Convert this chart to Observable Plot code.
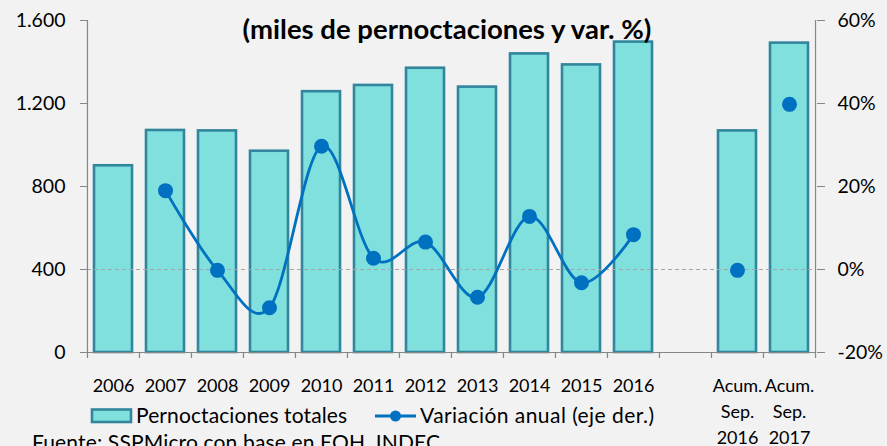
<!DOCTYPE html>
<html>
<head>
<meta charset="utf-8">
<script src="https://cdn.jsdelivr.net/npm/d3@7"></script>
<script src="https://cdn.jsdelivr.net/npm/@observablehq/plot@0.6"></script>
<style>
  html, body { margin: 0; padding: 0; background: #f2f2f2; }
  #chart { width: 887px; height: 446px; overflow: hidden; }
</style>
</head>
<body>
<div id="chart"></div>
<script>
// ---- Data ----
const categories = ["2006","2007","2008","2009","2010","2011","2012","2013","2014","2015","2016"," ","Acum.\nSep.\n2016","Acum.\nSep.\n2017"];
const pernoctaciones = [900, 1070, 1068, 970, 1257, 1287, 1370, 1279, 1439, 1386, 1496, null, 1068, 1491];
const variacion = [null, 19.0, -0.2, -9.2, 29.7, 2.7, 6.6, -6.7, 12.8, -3.2, 8.4, null, -0.2, 39.8];
const leftTicks = [0, 400, 800, 1200, 1600];
const rightTickLabels = ["-20%", "0%", "20%", "40%", "60%"];
const title = "(miles de pernoctaciones y var. %)";
const legendLabels = ["Pernoctaciones totales", "Variación anual (eje der.)"];
const caption = "Fuente: SSPMicro con base en EOH, INDEC";

// ---- Styles ----
const W = 887, H = 446;
const M = {top: 20, right: 71, bottom: 94, left: 87};
const step = (W - M.left - M.right) / categories.length;
const barFill = "#80e0dd", barStroke = "#31859c", lineColor = "#0070c0", axisColor = "#868686";
const font = "Lato, 'Open Sans', sans-serif";

// secondary axis mapping: pct -> primary units (0% at 400, 20% per 400)
const pctToY = p => 400 + p * 20;

const bars = categories.map((c, i) => ({cat: c, value: pernoctaciones[i]})).filter(d => d.value != null);
const pts = categories.map((c, i) => ({cat: c, pct: variacion[i], idx: i})).filter(d => d.pct != null);
const linePts = pts.filter(d => d.idx <= 10);

const fmt = d3.formatLocale({decimal: ",", thousands: ".", grouping: [3], currency: ["$", ""]}).format(",");

const plot = Plot.plot({
  width: W, height: H,
  marginTop: M.top, marginRight: M.right, marginBottom: M.bottom, marginLeft: M.left,
  style: {background: "#f2f2f2", fontFamily: font, color: "#000"},
  x: {type: "band", domain: categories, paddingInner: 0.26, paddingOuter: 0.13, axis: null},
  y: {domain: [0, 1600], axis: null},
  marks: [
    Plot.barY(bars, {x: "cat", y: "value", fill: barFill, stroke: barStroke, strokeWidth: 2.6}),
    Plot.ruleY([pctToY(0)], {stroke: "#a6a6a6", strokeWidth: 1.2, strokeDasharray: "4,3"}),
    Plot.ruleY([0], {stroke: axisColor, strokeWidth: 1.2}),
    // left & right axis lines at frame edges
    Plot.ruleX([categories[0]], {x: d => d, y1: 0, y2: 1600, dx: -step / 2, stroke: axisColor, strokeWidth: 1.2}),
    Plot.ruleX([categories[categories.length - 1]], {x: d => d, y1: 0, y2: 1600, dx: step / 2, stroke: axisColor, strokeWidth: 1.2}),
    // category boundary ticks
    Plot.ruleX(categories, {x: d => d, y1: 0, y2: 0, insetBottom: -6, dx: -step / 2, stroke: axisColor, strokeWidth: 1.2}),
    Plot.ruleX([categories[categories.length - 1]], {x: d => d, y1: 0, y2: 0, insetBottom: -6, dx: step / 2, stroke: axisColor, strokeWidth: 1.2}),
    Plot.axisY({anchor: "left", label: null, ticks: leftTicks, tickFormat: fmt, tickSize: 7, tickPadding: 15, fontSize: 19.5, stroke: axisColor, color: "#000"}),
    Plot.axisY({anchor: "right", label: null, ticks: leftTicks, tickFormat: d => rightTickLabels[leftTicks.indexOf(d)], tickSize: 8, tickPadding: 13, fontSize: 19.5, stroke: axisColor}),
    Plot.line(linePts, {x: "cat", y: d => pctToY(d.pct), stroke: lineColor, strokeWidth: 2.8, curve: "cardinal", tension: 0}),
    Plot.dot(pts, {x: "cat", y: d => pctToY(d.pct), r: 7.5, fill: lineColor}),
    Plot.text(categories, {x: d => d, text: d => d, frameAnchor: "bottom", lineAnchor: "top", lineHeight: 1.45, dy: 21, fontSize: 18, fill: "#000"}),
    Plot.text([title], {frameAnchor: "top", dx: -5, dy: -1, fontSize: 27.5, fontWeight: "bold", fill: "#000"})
  ]
});

document.getElementById("chart").appendChild(plot);

// ---- Legend and caption ----
const svg = d3.select(plot);
const lg = svg.append("g").attr("font-family", font).attr("font-size", 21).attr("fill", "#000").attr("text-anchor", "start");
lg.append("rect").attr("x", 92).attr("y", 409.5).attr("width", 39).attr("height", 12.5)
  .attr("fill", barFill).attr("stroke", barStroke).attr("stroke-width", 2.6);
lg.append("text").attr("x", 136).attr("y", 423).attr("textLength", 211).text(legendLabels[0]);
lg.append("line").attr("x1", 375).attr("x2", 416).attr("y1", 416).attr("y2", 416)
  .attr("stroke", lineColor).attr("stroke-width", 2.8);
lg.append("circle").attr("cx", 395.5).attr("cy", 416).attr("r", 5.5).attr("fill", lineColor);
lg.append("text").attr("x", 420).attr("y", 423).attr("textLength", 234).text(legendLabels[1]);
lg.append("text").attr("x", 32).attr("y", 450).attr("textLength", 408).text(caption);
</script>
</body>
</html>
